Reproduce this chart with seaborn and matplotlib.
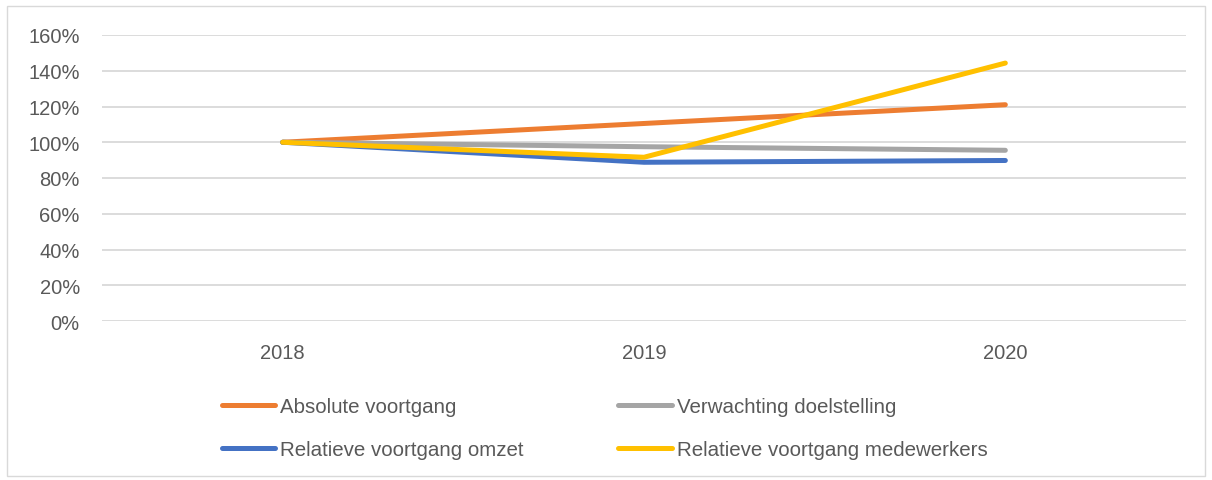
import matplotlib
matplotlib.use("Agg")
import matplotlib.pyplot as plt
import seaborn as sns
import pandas as pd
from matplotlib.lines import Line2D
from matplotlib.patches import Rectangle
from matplotlib.ticker import PercentFormatter

years = ["2018", "2019", "2020"]
absolute_voortgang = [100, 110.5, 121]
verwachting_doelstelling = [100, 97.5, 95.5]
relatieve_omzet = [100, 88.8, 89.8]
relatieve_medewerkers = [100, 91.6, 144.3]

series_names = ["Absolute voortgang", "Verwachting doelstelling",
                "Relatieve voortgang omzet", "Relatieve voortgang medewerkers"]
series_values = [absolute_voortgang, verwachting_doelstelling,
                 relatieve_omzet, relatieve_medewerkers]
colors = ["#ED7D31", "#A5A5A5", "#4472C4", "#FFC000"]

rows = []
for name, vals in zip(series_names, series_values):
    for y, v in zip(years, vals):
        rows.append({"Jaar": y, "Waarde": v, "Reeks": name})
df = pd.DataFrame(rows)

sns.set_style("white")
plt.rcParams["font.family"] = ["Liberation Sans", "DejaVu Sans"]

fig = plt.figure(figsize=(12.12, 4.81), dpi=100)
ax = fig.add_axes([102 / 1212, 1 - 322 / 481, (1186 - 102) / 1212, (322 - 36) / 481])

palette = dict(zip(series_names, colors))
sns.lineplot(data=df, x="Jaar", y="Waarde", hue="Reeks", palette=palette,
             hue_order=series_names, linewidth=3.6, ax=ax, legend=False,
             sort=False)
for ln in ax.get_lines():
    ln.set_solid_capstyle("round")
    ln.set_solid_joinstyle("round")

ax.set_xlim(-0.5, 2.5)
ax.set_ylim(0, 160)
ax.set_yticks(range(0, 161, 20))
ax.yaxis.set_major_formatter(PercentFormatter(decimals=0))
ax.grid(axis="y", color="#D9D9D9", linewidth=1.3)
ax.set_axisbelow(True)
for s in ax.spines.values():
    s.set_visible(False)
ax.set_xlabel("")
ax.set_ylabel("")
ax.tick_params(axis="both", length=0, labelsize=14.5, colors="#595959")
ax.tick_params(axis="y", pad=16)
ax.tick_params(axis="x", pad=16)

# Excel fills legend row by row; matplotlib fills by column
legend_order = [0, 2, 1, 3]
handles = [Line2D([0], [0], color=colors[i], linewidth=3.6, solid_capstyle="round")
           for i in legend_order]
labels = [series_names[i] for i in legend_order]
leg = fig.legend(handles, labels, ncol=2, loc="center",
                 bbox_to_anchor=(0.499, 1 - 429 / 481), frameon=False,
                 fontsize=14.8, labelcolor="#595959", handlelength=2.6,
                 handletextpad=0.25, columnspacing=4.6, labelspacing=1.15)

fig.patches.append(Rectangle((7 / 1212, 4 / 481), 1198 / 1212, 470 / 481,
                             transform=fig.transFigure, fill=False,
                             edgecolor="#D9D9D9", linewidth=1))

fig.savefig("out.png", dpi=100)
